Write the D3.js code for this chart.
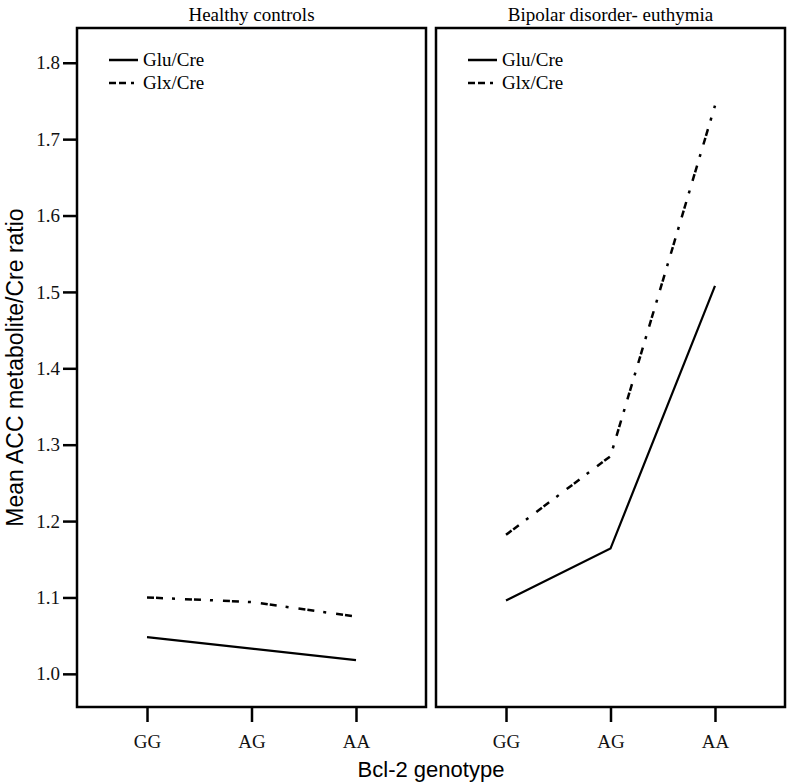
<!DOCTYPE html>
<html>
<head>
<meta charset="utf-8">
<script src="https://cdn.jsdelivr.net/npm/d3@7"></script>
<style>
  body { margin: 0; background: #fff; }
  svg { display: block; }
  .tick text { font-family: "Liberation Serif", "Times New Roman", serif; font-size: 19px; fill: #111; }
</style>
</head>
<body>
<div id="chart"></div>
<script>
// genotype categories and panels
const genotypes = ["GG", "AG", "AA"];
const panels = ["Healthy controls", "Bipolar disorder- euthymia"];
const seriesNames = ["Glu/Cre", "Glx/Cre"];

// mean ratios, one row per panel
const gluCre = [
  [1.048, 1.033, 1.018],
  [1.096, 1.164, 1.508]
];
const glxCre = [
  [1.100, 1.094, 1.075],
  [1.182, 1.285, 1.744]
];

const yTicks = [1.0, 1.1, 1.2, 1.3, 1.4, 1.5, 1.6, 1.7, 1.8];

const width = 789, height = 783;
const plotTop = 28, plotBottom = 707;
const panelX = [[77, 426], [436, 785]];

const svg = d3.select("#chart").append("svg")
  .attr("width", width)
  .attr("height", height);

// shared y scale
const y = d3.scaleLinear()
  .domain([0.9566, 1.8455])
  .range([plotBottom, plotTop]);

const dashStyle = "7,2,7,9,3,10";

panels.forEach((title, p) => {
  let [x0, x1] = panelX[p];

  let x = d3.scalePoint()
    .domain(genotypes)
    .range([x0, x1])
    .padding(0.67);

  let g = svg.append("g");

  // frame
  g.append("rect")
    .attr("x", x0)
    .attr("y", plotTop)
    .attr("width", x1 - x0)
    .attr("height", plotBottom - plotTop)
    .attr("fill", "none")
    .attr("stroke", "#000")
    .attr("stroke-width", 2.5);

  // x axis
  let xAxis = g.append("g")
    .attr("transform", `translate(0, ${plotBottom})`)
    .call(d3.axisBottom(x).tickSize(15).tickPadding(13));
  xAxis.select(".domain").remove();
  xAxis.selectAll(".tick line").attr("stroke", "#000").attr("stroke-width", 2.5);

  // panel title
  svg.append("text")
    .attr("x", (x0 + x1) / 2)
    .attr("y", 21)
    .attr("text-anchor", "middle")
    .style("font-family", "Liberation Serif, Times New Roman, serif")
    .style("font-size", "19px")
    .text(title);

  let line = d3.line()
    .x((d, i) => x(genotypes[i]))
    .y(d => y(d));

  g.append("path")
    .datum(gluCre[p])
    .attr("d", line)
    .attr("fill", "none")
    .attr("stroke", "#000")
    .attr("stroke-width", 2.2);

  g.append("path")
    .datum(glxCre[p])
    .attr("d", line)
    .attr("fill", "none")
    .attr("stroke", "#000")
    .attr("stroke-width", 2.5)
    .attr("stroke-dasharray", dashStyle);

  // legend
  let legend = g.append("g")
    .attr("transform", `translate(${x0 + 32}, 0)`);
  seriesNames.forEach((name, i) => {
    let ly = 60 + i * 23;
    legend.append("line")
      .attr("x1", 0).attr("x2", 29)
      .attr("y1", ly).attr("y2", ly)
      .attr("stroke", "#000")
      .attr("stroke-width", 2.5)
      .attr("stroke-dasharray", i === 0 ? null : "7,3,7,5,3,4");
    legend.append("text")
      .attr("x", 34)
      .attr("y", ly + 6)
      .style("font-family", "Liberation Serif, Times New Roman, serif")
      .style("font-size", "19px")
      .text(name);
  });
});

// y axis on the left panel
let yAxis = svg.append("g")
  .attr("transform", `translate(${panelX[0][0]}, 0)`)
  .call(d3.axisLeft(y).tickValues(yTicks).tickFormat(d3.format(".1f")).tickSize(14).tickPadding(3));
yAxis.select(".domain").remove();
yAxis.selectAll(".tick line").attr("stroke", "#000").attr("stroke-width", 2.5);

// axis titles
svg.append("text")
  .attr("transform", `translate(23, ${(plotTop + plotBottom) / 2}) rotate(-90)`)
  .attr("text-anchor", "middle")
  .style("font-family", "Liberation Sans, Arial, sans-serif")
  .style("font-size", "23px")
  .text("Mean ACC metabolite/Cre ratio");

svg.append("text")
  .attr("x", (panelX[0][0] + panelX[1][1]) / 2)
  .attr("y", 777)
  .attr("text-anchor", "middle")
  .style("font-family", "Liberation Sans, Arial, sans-serif")
  .style("font-size", "22px")
  .text("Bcl-2 genotype");
</script>
</body>
</html>
